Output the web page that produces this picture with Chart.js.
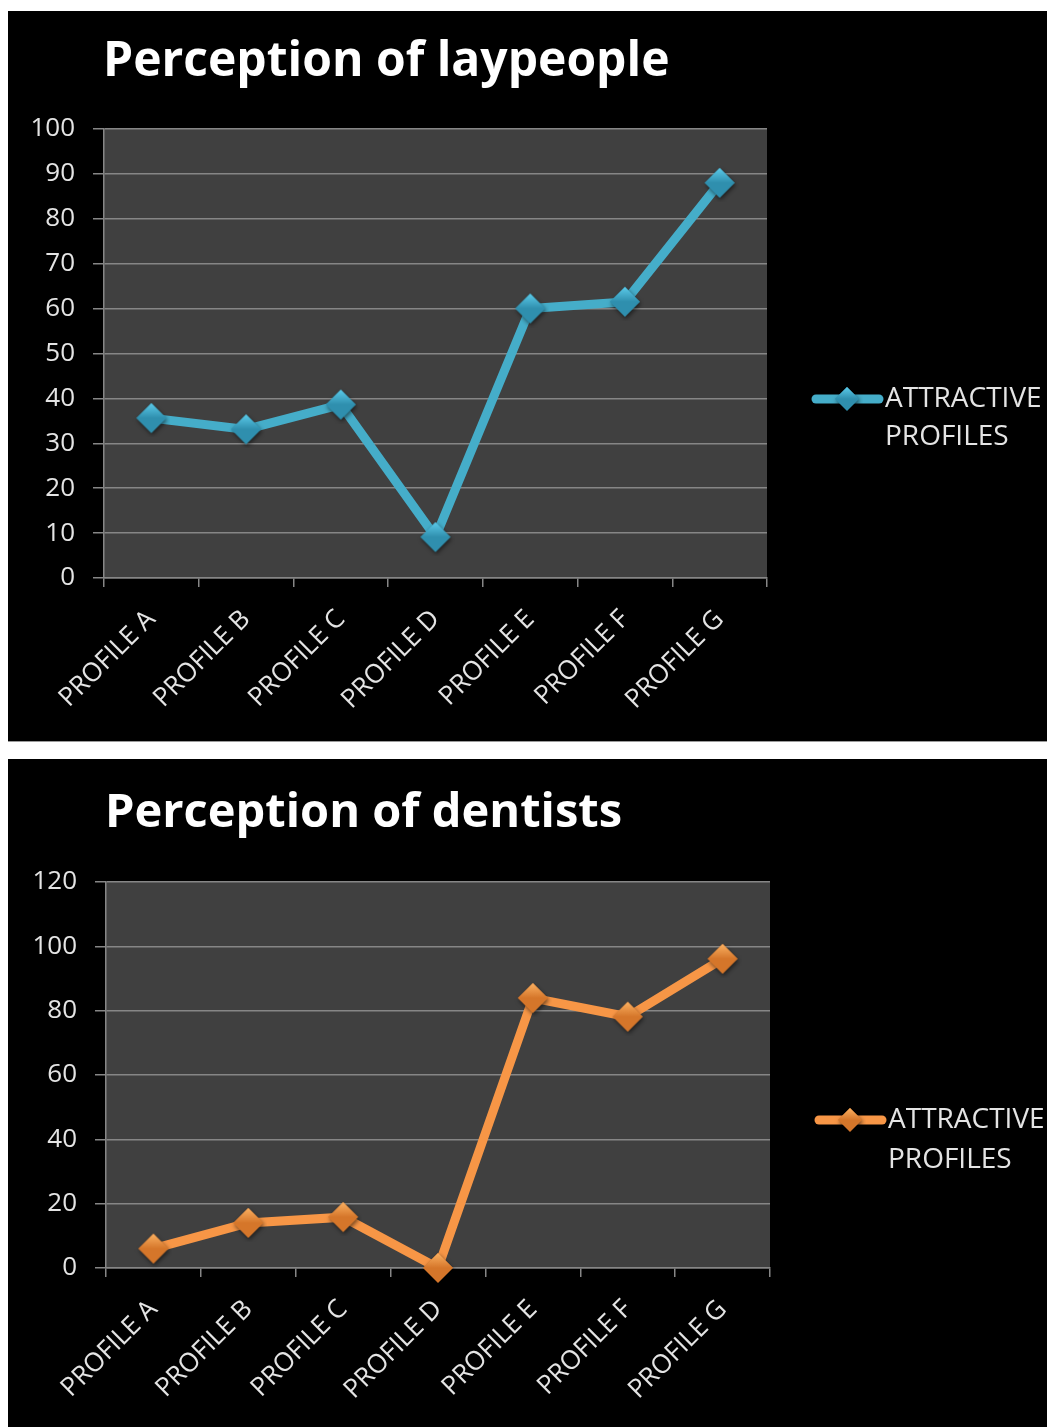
<!DOCTYPE html>
<html>
<head>
<meta charset="utf-8">
<script src="https://cdn.jsdelivr.net/npm/chart.js@4/dist/chart.umd.min.js"></script>
<style>
  html, body { margin: 0; padding: 0; background: #fff; }
  body { width: 1047px; height: 1427px; position: relative; overflow: hidden; }
  .panel { position: absolute; left: 8px; width: 1039px; background: #000; }
  #panelTop { top: 11px; height: 730px; border-bottom: 1px solid #9a9a9a; }
  #panelBottom { top: 759px; height: 668px; }
  canvas { display: block; }
</style>
</head>
<body>
<div class="panel" id="panelTop"><canvas id="layChart" width="1039" height="730"></canvas></div>
<div class="panel" id="panelBottom"><canvas id="dentChart" width="1039" height="668"></canvas></div>
<script>
// data
const categories = ['PROFILE A', 'PROFILE B', 'PROFILE C', 'PROFILE D', 'PROFILE E', 'PROFILE F', 'PROFILE G'];
const laypeopleValues = [35.6, 33.1, 38.6, 9.1, 60.0, 61.5, 88.0];
const dentistsValues  = [6.0, 14.0, 15.8, 0, 83.9, 78.1, 96.1];
const seriesLabel = ['ATTRACTIVE', 'PROFILES'];

const FONT = "'Open Sans', 'Noto Sans', sans-serif";
const GRID = '#868686';
const TICK_TEXT = '#e4e4e4';

// beveled diamond marker, like the Excel 2007 one
function diamond(light, dark, r) {
  const pad = 4;
  const c = document.createElement('canvas');
  c.width = c.height = 2 * (r + pad);
  const g = c.getContext('2d');
  const m = r + pad;
  g.save();
  g.shadowColor = 'rgba(0,0,0,0.55)';
  g.shadowBlur = 4;
  g.shadowOffsetX = 1;
  g.shadowOffsetY = 2;
  g.beginPath();
  g.moveTo(m - r, m); g.lineTo(m, m - r); g.lineTo(m + r, m); g.lineTo(m, m + r);
  g.closePath();
  g.fillStyle = dark;
  g.fill();
  g.restore();
  // upper facet
  const grad = g.createLinearGradient(0, m - r, 0, m);
  grad.addColorStop(0, light);
  grad.addColorStop(1, dark);
  g.beginPath();
  g.moveTo(m - r, m); g.lineTo(m, m - r); g.lineTo(m + r, m);
  g.closePath();
  g.fillStyle = grad;
  g.fill();
  return c;
}

// dark plot area
const plotBg = {
  id: 'plotBg',
  beforeDraw(chart) {
    const a = chart.chartArea, ctx = chart.ctx;
    ctx.save();
    ctx.fillStyle = '#404040';
    ctx.fillRect(a.left, a.top, a.right - a.left, a.bottom - a.top);
    ctx.restore();
  }
};

// title + two-line legend on the right
const decor = {
  id: 'decor',
  afterDraw(chart, args, opts) {
    const ctx = chart.ctx, a = chart.chartArea;
    const ds = chart.data.datasets[0];
    ctx.save();
    ctx.fillStyle = '#fff';
    ctx.font = 'bold ' + opts.titleSize + 'px ' + FONT;
    ctx.textBaseline = 'alphabetic';
    ctx.textAlign = 'left';
    ctx.fillText(opts.title, a.left - 1, opts.titleY);

    const x0 = a.right + 45, y0 = opts.legendY;
    ctx.strokeStyle = ds.borderColor;
    ctx.lineWidth = 9;
    ctx.lineCap = 'round';
    ctx.beginPath();
    ctx.moveTo(x0 + 4, y0);
    ctx.lineTo(x0 + 67, y0);
    ctx.stroke();
    const mk = opts.legendMarker;
    ctx.drawImage(mk, x0 + 35 - mk.width / 2, y0 - mk.height / 2);

    ctx.fillStyle = TICK_TEXT;
    ctx.font = '28px ' + FONT;
    ctx.textBaseline = 'middle';
    seriesLabel.forEach((t, i) => ctx.fillText(t, x0 + 73, y0 + i * opts.legendGap));
    ctx.restore();
  }
};

function makeChart(id, values, opt) {
  const canvas = document.getElementById(id);
  return new Chart(canvas, {
    type: 'line',
    data: {
      labels: categories,
      datasets: [{
        label: seriesLabel.join(' '),
        data: values,
        borderColor: opt.color,
        borderWidth: 9,
        tension: 0,
        clip: false,
        pointStyle: diamond(opt.light, opt.dark, 15),
        pointRadius: 15,
        pointHoverRadius: 15,
      }],
    },
    options: {
      responsive: false,
      animation: false,
      events: [],
      layout: { padding: { top: opt.top, right: opt.right, left: 0, bottom: 0 } },
      plugins: {
        legend: { display: false },
        tooltip: { enabled: false },
        decor: {
          title: opt.title, titleSize: opt.titleSize, titleY: opt.titleY,
          legendY: opt.legendY, legendGap: opt.legendGap,
          legendMarker: diamond(opt.light, opt.dark, 12),
        },
      },
      scales: {
        x: {
          offset: true,
          afterFit: s => { s.height = opt.xHeight; },
          grid: { offset: true, drawOnChartArea: false, color: GRID, tickLength: 9, lineWidth: 1.5 },
          border: { color: GRID, width: 1.5 },
          ticks: {
            autoSkip: false, minRotation: 45, maxRotation: 45,
            color: TICK_TEXT, font: { family: FONT, size: 26 }, padding: 17,
          },
        },
        y: {
          min: 0, max: opt.max,
          afterFit: s => { s.width = opt.yWidth; },
          grid: { color: GRID, tickLength: 11, lineWidth: 1.5 },
          border: { color: GRID, width: 1.5 },
          ticks: { stepSize: opt.step, color: TICK_TEXT, font: { family: FONT, size: 26 }, padding: 18 },
        },
      },
    },
    plugins: [plotBg, decor],
  });
}

makeChart('layChart', laypeopleValues, {
  title: 'Perception of laypeople', titleY: 65, titleSize: 48,
  color: '#45adc9', light: '#5ccbea', dark: '#2f8fae',
  max: 100, step: 10, top: 118, right: 280, xHeight: 163, yWidth: 96,
  legendY: 388, legendGap: 38,
});

makeChart('dentChart', dentistsValues, {
  title: 'Perception of dentists', titleY: 68, titleSize: 47,
  color: '#f79646', light: '#fbb162', dark: '#d5762a',
  max: 120, step: 20, top: 123, right: 277, xHeight: 159, yWidth: 98,
  legendY: 361, legendGap: 40,
});
</script>
</body>
</html>
